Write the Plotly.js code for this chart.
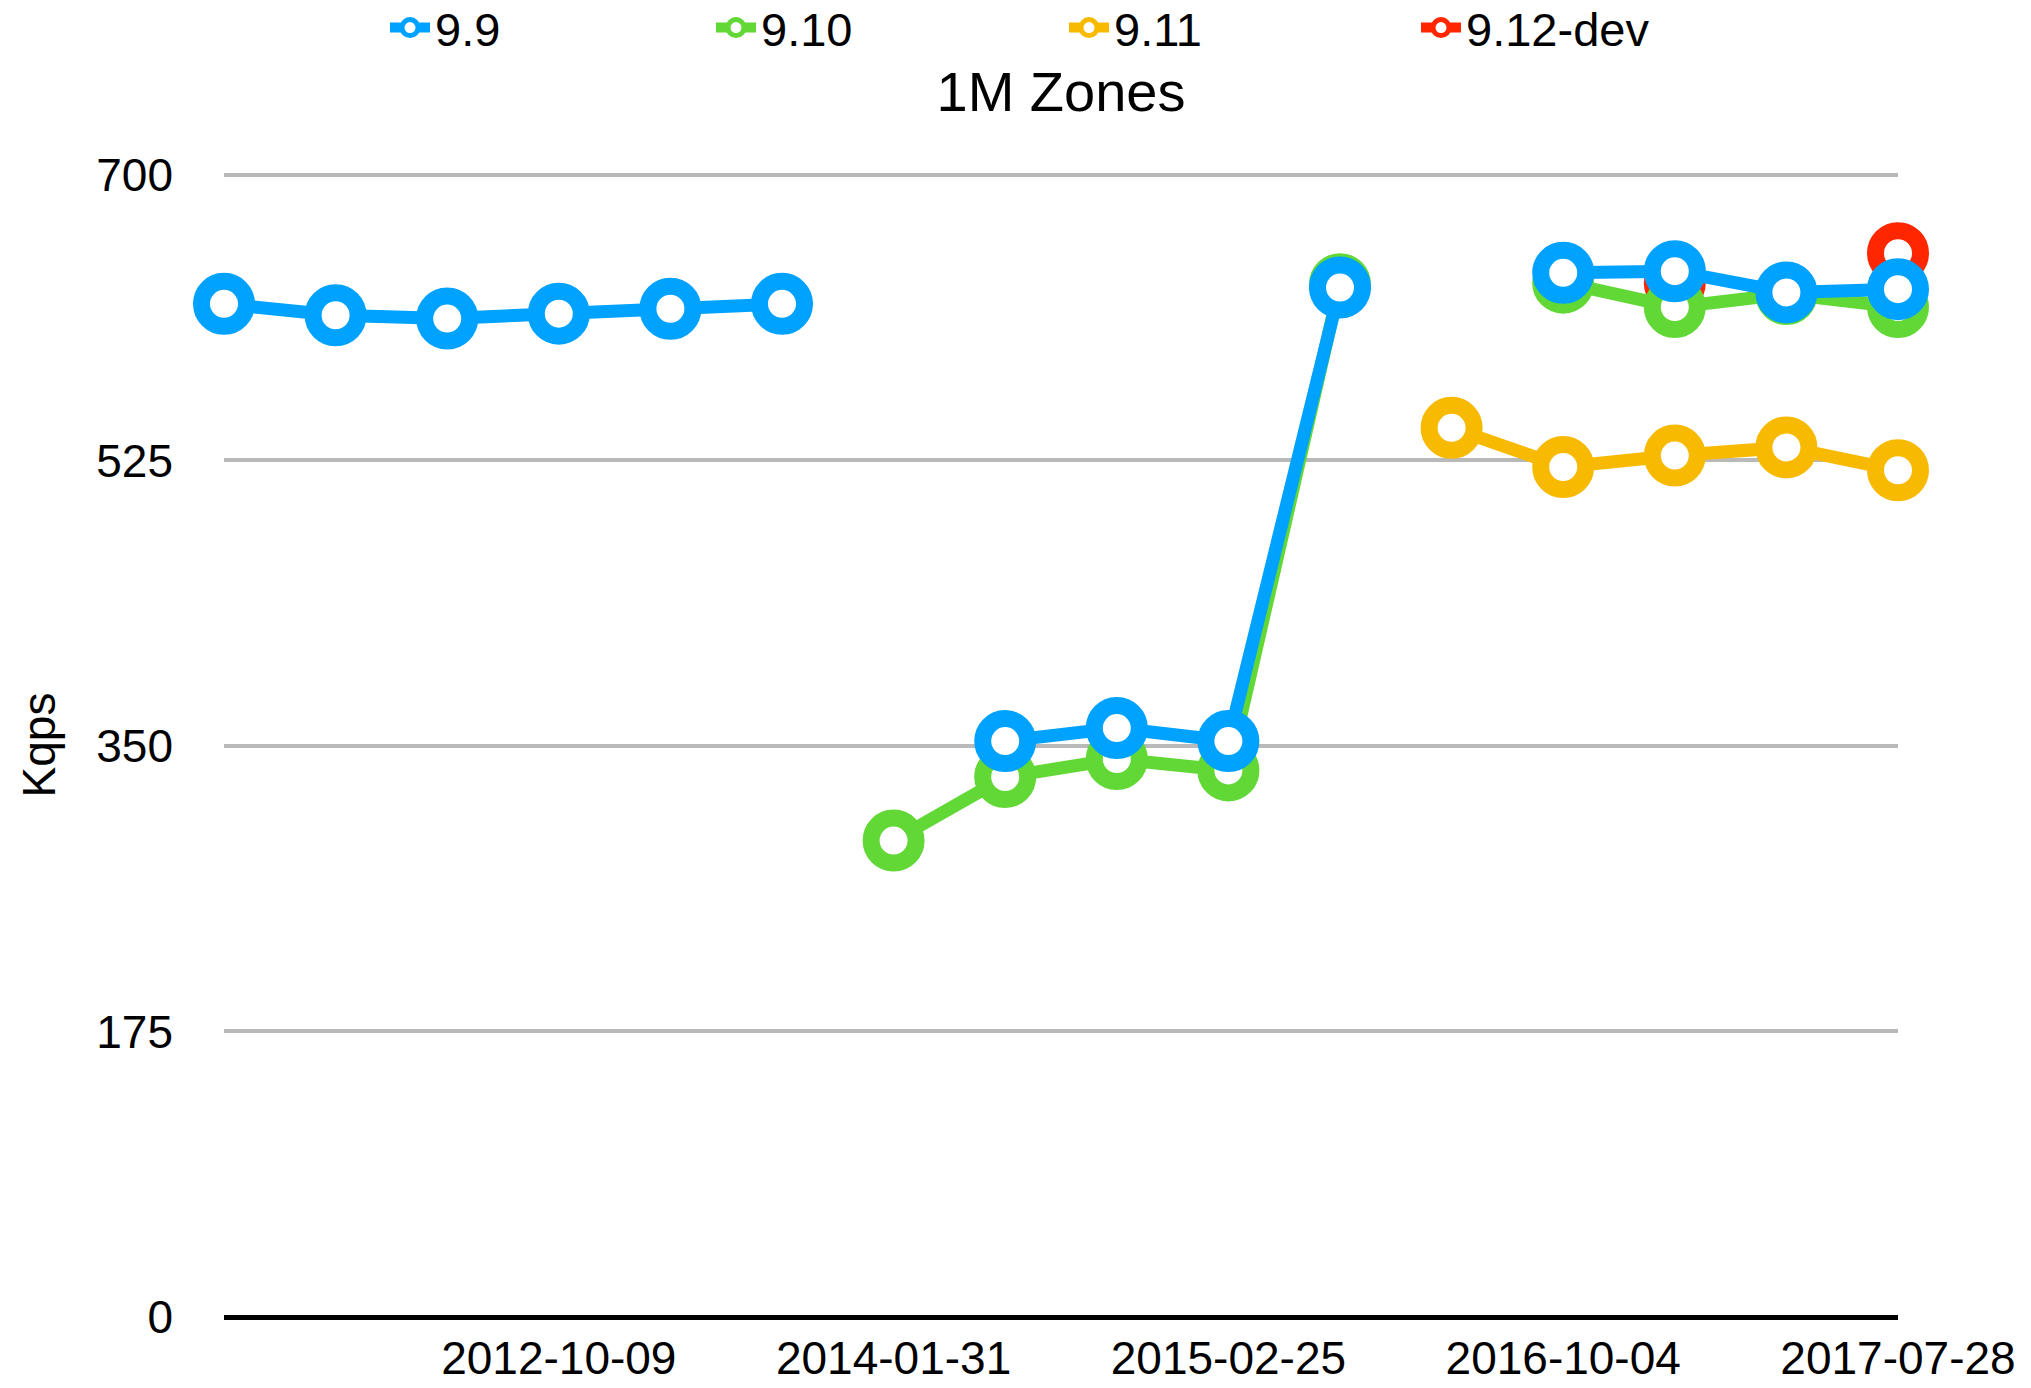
<!DOCTYPE html>
<html>
<head>
<meta charset="utf-8">
<script src="https://cdn.plot.ly/plotly-3.0.1.min.js"></script>
<style>html,body{margin:0;padding:0;background:#fff;}#chart{width:2031px;height:1388px;}</style>
</head>
<body>
<div id="chart"></div>
<script>
// Category positions (16 test runs), only every third one is labelled
const xIndex = [0,1,2,3,4,5,6,7,8,9,10,11,12,13,14,15];
const tickPositions = [3, 6, 9, 12, 15];
const tickLabels = ["2012-10-09", "2014-01-31", "2015-02-25", "2016-10-04", "2017-07-28"];
const yTicks = [0, 175, 350, 525, 700];

const seriesNames = ["9.9", "9.10", "9.11", "9.12-dev"];
const v99   = [621, 614, 612, 615, 618, 621, null, 353, 361, 353, 631, null, 640, 641, 628, 630];
const v910  = [null, null, null, null, null, null, 292, 331, 342, 335, 633, null, 634, 619, 627, 619];
const v911  = [null, null, null, null, null, null, null, null, null, null, null, 545, 521, 528, 533, 519];
const v912  = [null, null, null, null, null, null, null, null, null, null, null, null, null, 634, null, 652];

const colors = {"9.9": "#00A2FF", "9.10": "#61D836", "9.11": "#F8BA00", "9.12-dev": "#FF2600"};
const FONT = '"Liberation Sans", Arial, Helvetica, sans-serif';

function mk(name, y, legendId) {
  return {
    type: 'scatter', mode: 'lines+markers', name: name, x: xIndex, y: y,
    legend: legendId, cliponaxis: false, connectgaps: false, hoverinfo: 'x+y+name',
    line: {color: colors[name], width: 13},
    marker: {size: 45, color: '#ffffff', line: {color: colors[name], width: 17}}
  };
}

// draw order: red at bottom, blue on top
const data = [
  mk("9.12-dev", v912, 'legend4'),
  mk("9.11", v911, 'legend3'),
  mk("9.10", v910, 'legend2'),
  mk("9.9", v99, 'legend')
];

function leg(xpx) {
  return {
    x: xpx / 2031, xref: 'container', xanchor: 'left',
    y: 1 - 28 / 1388, yref: 'container', yanchor: 'middle',
    orientation: 'h', bgcolor: 'rgba(0,0,0,0)', borderwidth: 0,
    itemwidth: 40,
    font: {family: FONT, size: 47, color: '#000'}
  };
}

const layout = {
  width: 2031, height: 1388,
  paper_bgcolor: '#ffffff', plot_bgcolor: '#ffffff',
  margin: {l: 224, r: 133, t: 173, b: 71},
  font: {family: FONT, color: '#000'},
  showlegend: true,
  legend: leg(385),
  legend2: leg(711),
  legend3: leg(1064),
  legend4: leg(1416),
  title: {
    text: '1M Zones', font: {family: FONT, size: 56, color: '#000'},
    x: 0.5, xref: 'paper', xanchor: 'center',
    y: 1 - 91 / 1388, yref: 'container', yanchor: 'middle'
  },
  xaxis: {
    range: [0, 15], showgrid: false, zeroline: false, showline: false,
    tickmode: 'array', tickvals: tickPositions, ticktext: tickLabels,
    ticks: '', ticklabelstandoff: 10,
    tickfont: {family: FONT, size: 46, color: '#000'}, fixedrange: true
  },
  yaxis: {
    range: [0, 701.2], tickmode: 'array', tickvals: yTicks,
    showgrid: true, gridcolor: '#b9b9b9', gridwidth: 3.5,
    zeroline: true, zerolinecolor: '#000000', zerolinewidth: 5,
    showline: false, ticks: '', ticklabelstandoff: 50,
    tickfont: {family: FONT, size: 46, color: '#000'},
    title: {text: 'Kqps', font: {family: FONT, size: 46, color: '#000'}, standoff: 26},
    fixedrange: true
  }
};

Plotly.newPlot('chart', data, layout, {displayModeBar: false, staticPlot: false});
</script>
</body>
</html>
